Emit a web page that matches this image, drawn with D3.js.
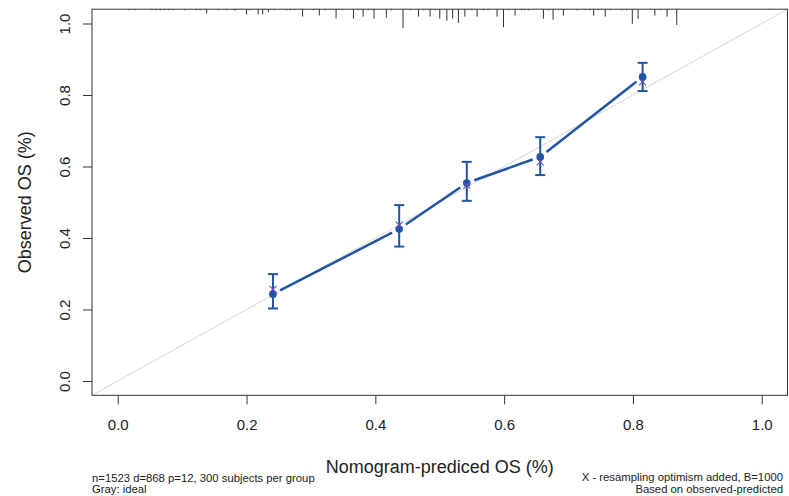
<!DOCTYPE html>
<html>
<head>
<meta charset="utf-8">
<script src="https://cdn.jsdelivr.net/npm/d3@7"></script>
<style>
  body { margin: 0; background: #fff; }
  text { font-family: "Liberation Sans", Arial, sans-serif; fill: #222; }
</style>
</head>
<body>
<script>
// calibration groups
const predicted = [0.241, 0.437, 0.542, 0.656, 0.815];
const observed  = [0.243, 0.425, 0.554, 0.627, 0.851];
const lower     = [0.203, 0.376, 0.504, 0.576, 0.811];
const upper     = [0.299, 0.492, 0.613, 0.682, 0.890];
const corrected = [0.256, 0.436, 0.548, 0.613, 0.837];

// distribution of predicted values (top rug)
const rugPred = [0.018, 0.027, 0.053, 0.059, 0.066, 0.072, 0.079, 0.086, 0.104, 0.122,
  0.128, 0.138, 0.156, 0.169, 0.181, 0.183, 0.200, 0.205, 0.218, 0.225,
  0.234, 0.243, 0.262, 0.268, 0.275, 0.287, 0.304, 0.313, 0.322, 0.339,
  0.349, 0.366, 0.373, 0.381, 0.389, 0.398, 0.417, 0.425, 0.443, 0.454,
  0.467, 0.475, 0.485, 0.493, 0.500, 0.511, 0.520, 0.529, 0.539, 0.550,
  0.558, 0.568, 0.575, 0.589, 0.599, 0.607, 0.617, 0.627, 0.632, 0.638,
  0.661, 0.669, 0.676, 0.684, 0.692, 0.713, 0.726, 0.733, 0.739, 0.746,
  0.757, 0.765, 0.783, 0.790, 0.799, 0.808, 0.834, 0.843, 0.853, 0.868];
const rugFreq = [1, 1, 1, 1, 1, 1, 1, 1, 1, 1,
  1, 4, 1, 1, 1, 1, 5, 1, 5, 5,
  3, 1, 1, 1, 1, 7, 1, 6, 1, 9,
  1, 9, 1, 7, 1, 9, 8, 1, 18, 1,
  7, 1, 7, 1, 9, 11, 9, 13, 7, 1,
  7, 1, 1, 7, 17, 1, 6, 1, 1, 1,
  9, 1, 10, 1, 6, 1, 1, 1, 6, 1,
  7, 1, 1, 1, 14, 9, 6, 1, 7, 15];

const ticks = [0, 0.2, 0.4, 0.6, 0.8, 1.0];

const W = 789, H = 496;
const plot = { left: 92, right: 787.5, top: 9.2, bottom: 395.3 };

const svg = d3.select("body").append("svg")
  .attr("width", W)
  .attr("height", H);

const x = d3.scaleLinear().domain([-0.04, 1.04]).range([plot.left, plot.right]);
const y = d3.scaleLinear().domain([-0.04, 1.04]).range([plot.bottom, plot.top]);
const rugLen = d3.scaleLinear().domain([0, 18]).range([0, 19]);

const blue = "#2154a3";

// ideal line, clipped to the box
svg.append("clipPath").attr("id", "clip")
  .append("rect")
  .attr("x", plot.left).attr("y", plot.top)
  .attr("width", plot.right - plot.left).attr("height", plot.bottom - plot.top);

svg.append("line")
  .attr("clip-path", "url(#clip)")
  .attr("x1", x(-0.04)).attr("y1", y(-0.04))
  .attr("x2", x(1.04)).attr("y2", y(1.04))
  .attr("stroke", "#d6d6d6")
  .attr("stroke-width", 1);

// box
svg.append("rect")
  .attr("x", plot.left).attr("y", plot.top)
  .attr("width", plot.right - plot.left).attr("height", plot.bottom - plot.top)
  .attr("fill", "none")
  .attr("stroke", "#333")
  .attr("stroke-width", 1);

// axes
const xAxis = svg.append("g")
  .attr("transform", `translate(0,${plot.bottom})`)
  .call(d3.axisBottom(x).tickValues(ticks).tickFormat(d3.format(".1f")).tickSize(9).tickPadding(15));
xAxis.select(".domain").remove();
xAxis.selectAll("line").attr("stroke", "#333");
xAxis.selectAll("text")
  .attr("font-size", "15px")
  .attr("fill", "#222")
  .style("font-family", "'Liberation Sans', Arial, sans-serif");

const yAxis = svg.append("g")
  .attr("transform", `translate(${plot.left},0)`)
  .call(d3.axisLeft(y).tickValues(ticks).tickFormat(d3.format(".1f")).tickSize(9));
yAxis.select(".domain").remove();
yAxis.selectAll("line").attr("stroke", "#333");
yAxis.selectAll("text")
  .attr("font-size", "15px")
  .attr("fill", "#222")
  .style("font-family", "'Liberation Sans', Arial, sans-serif")
  .attr("x", null).attr("dy", null)
  .attr("text-anchor", "middle")
  .attr("transform", "translate(-22,0) rotate(-90)");

// rug of predicted values along the top
svg.append("g").selectAll("line")
  .data(rugPred)
  .join("line")
  .attr("x1", d => x(d)).attr("x2", d => x(d))
  .attr("y1", plot.top)
  .attr("y2", (d, i) => plot.top + rugLen(rugFreq[i]))
  .attr("stroke", "#333")
  .attr("stroke-width", 1);

// connecting line with gaps around points
const pts = predicted.map((p, i) => [x(p), y(observed[i])]);
const gap = 8;
const segs = d3.pairs(pts).map(([a, b]) => {
  const dx = b[0] - a[0], dy = b[1] - a[1];
  const len = Math.hypot(dx, dy);
  const ux = dx / len, uy = dy / len;
  return [a[0] + ux * gap, a[1] + uy * gap, b[0] - ux * gap, b[1] - uy * gap];
});
svg.append("g").selectAll("line")
  .data(segs)
  .join("line")
  .attr("x1", d => d[0]).attr("y1", d => d[1])
  .attr("x2", d => d[2]).attr("y2", d => d[3])
  .attr("stroke", blue)
  .attr("stroke-width", 2.5);

// error bars
const eb = svg.append("g").attr("stroke", blue).attr("stroke-width", 2);
predicted.forEach((p, i) => {
  eb.append("line")
    .attr("x1", x(p)).attr("x2", x(p))
    .attr("y1", y(lower[i])).attr("y2", y(upper[i]));
  [lower[i], upper[i]].forEach(v => {
    eb.append("line")
      .attr("x1", x(p) - 5).attr("x2", x(p) + 5)
      .attr("y1", y(v)).attr("y2", y(v));
  });
});

// observed points
svg.append("g").selectAll("circle")
  .data(predicted)
  .join("circle")
  .attr("cx", d => x(d))
  .attr("cy", (d, i) => y(observed[i]))
  .attr("r", 3.8)
  .attr("fill", blue);

// bias-corrected (X)
const xm = svg.append("g").attr("stroke", "#6a4fc0").attr("stroke-width", 1.1);
predicted.forEach((p, i) => {
  const cx = x(p), cy = y(corrected[i]), s = 3.5;
  xm.append("line").attr("x1", cx - s).attr("y1", cy - s).attr("x2", cx + s).attr("y2", cy + s);
  xm.append("line").attr("x1", cx - s).attr("y1", cy + s).attr("x2", cx + s).attr("y2", cy - s);
});

// titles
svg.append("text")
  .attr("x", (plot.left + plot.right) / 2)
  .attr("y", 473)
  .attr("text-anchor", "middle")
  .attr("font-size", "18px")
  .text("Nomogram-prediced OS (%)");

svg.append("text")
  .attr("transform", `translate(31,${(plot.top + plot.bottom) / 2}) rotate(-90)`)
  .attr("text-anchor", "middle")
  .attr("font-size", "18px")
  .text("Observed OS (%)");

// footnotes
svg.append("text")
  .attr("x", plot.left).attr("y", 481.5)
  .attr("font-size", "11.3px")
  .text("n=1523 d=868 p=12, 300 subjects per group");
svg.append("text")
  .attr("x", plot.left).attr("y", 493)
  .attr("font-size", "11.3px")
  .text("Gray: ideal");
svg.append("text")
  .attr("x", 783).attr("y", 481)
  .attr("text-anchor", "end")
  .attr("font-size", "11.3px")
  .text("X - resampling optimism added, B=1000");
svg.append("text")
  .attr("x", 783).attr("y", 492.5)
  .attr("text-anchor", "end")
  .attr("font-size", "11.3px")
  .text("Based on observed-predicted");
</script>
</body>
</html>
